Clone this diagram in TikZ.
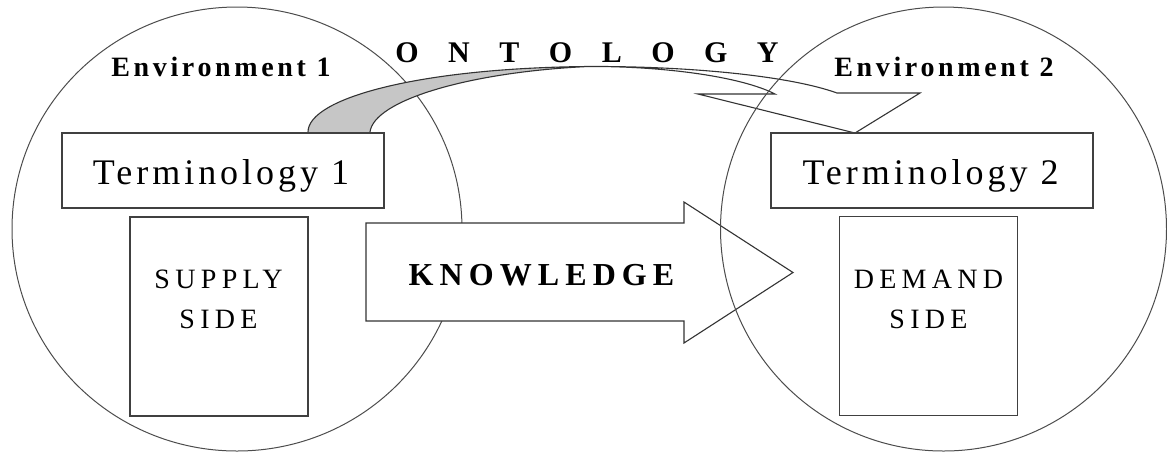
\documentclass[tikz,border=0pt]{standalone}
\usepackage{fontspec}
\setmainfont{Liberation Serif}
\newfontfamily\termfont[LetterSpace=11]{Liberation Serif}
\newfontfamily\sidefont[LetterSpace=19]{Liberation Serif}
\newfontfamily\envfont[LetterSpace=13]{Liberation Serif}
\newfontfamily\knowfont[LetterSpace=19]{Liberation Serif}
\newlength\ontogap
\setlength\ontogap{14.75pt}
\newcommand\ontowords[1]{\spaceskip=\ontogap\relax #1}
\begin{document}
\begin{tikzpicture}[x=0.5pt,y=-0.5pt,
  ring/.style={draw=black!70, line width=0.5pt},
  edge/.style={draw=black!80, line width=0.55pt, line join=miter},
  termbox/.style={draw=black!75, line width=0.75pt, fill=white, inner sep=0pt,
    minimum width=161pt, minimum height=37.5pt},
  sidebox/.style={draw=black!75, line width=0.75pt, fill=white, inner sep=0pt,
    minimum width=89pt, minimum height=99.5pt},
  termtext/.style={inner sep=0pt, anchor=base, font=\termfont\fontsize{18}{21}\selectfont},
  sidetext/.style={inner sep=0pt, anchor=north, align=center, font=\sidefont\fontsize{14}{20}\selectfont},
  envtext/.style={inner sep=0pt, anchor=base, font=\envfont\bfseries\fontsize{14}{17}\selectfont},
  knowtext/.style={inner sep=0pt, anchor=base, font=\knowfont\bfseries\fontsize{16}{19}\selectfont},
  ontotext/.style={inner sep=0pt, anchor=base, font=\bfseries\fontsize{15}{18}\selectfont}
]
\useasboundingbox (0,0) rectangle (1167,452);

% left environment circle
\draw[ring] (237,229) ellipse [x radius=112.5pt, y radius=111pt];

% ontology ribbon arrow
\coordinate (oa) at (308,132);
\coordinate (ob) at (370,132);
\coordinate (peak) at (588,66.5);
\coordinate (outerend) at (837,93);
\coordinate (innerend) at (775,94);
\coordinate (barbr) at (920,93);
\coordinate (barbl) at (698,94);
\coordinate (tip) at (855,133);

\fill[gray!45] (oa) .. controls (308,98) and (420,68) .. (peak)
  .. controls (470,72) and (374,100) .. (ob) -- cycle;
\draw[edge] (oa) .. controls (308,98) and (420,68) .. (peak)
  .. controls (690,66) and (790,76) .. (outerend) -- (barbr) -- (tip) -- (barbl) -- (innerend)
  .. controls (740,76) and (660,66) .. (peak)
  .. controls (470,72) and (374,100) .. (ob);

% knowledge block arrow
\coordinate (k1) at (366,223);
\coordinate (k2) at (684,223);
\coordinate (k3) at (684,202);
\coordinate (k4) at (793,272.5);
\coordinate (k5) at (684,343);
\coordinate (k6) at (684,321);
\coordinate (k7) at (366,321);
\draw[edge, fill=white] (k1) -- (k2) -- (k3) -- (k4) -- (k5) -- (k6) -- (k7) -- cycle;

% right environment circle
\draw[ring] (943.5,229) ellipse [x radius=111.5pt, y radius=111pt];

% boxes
\node[termbox] (term1) at (223,170.5) {};
\node[termbox] (term2) at (932,170.5) {};
\node[sidebox] (supply) at (219,316.5) {};
\node[sidebox] (demand) at (928.5,316) {};

% texts
\node[termtext] (term1t) at (221,184) {Terminology 1};
\node[termtext] (term2t) at (930.5,184) {Terminology 2};
\node[sidetext] (supplyt) at (218.5,270) {SUPPLY\\SIDE};
\node[sidetext] (demandt) at (928.5,270) {DEMAND\\SIDE};
\node[envtext] (env1) at (221,76) {Environment 1};
\node[envtext] (env2) at (944,76) {Environment 2};
\node[knowtext] (know) at (541.5,285) {KNOWLEDGE};
\node[ontotext] (onto) at (587,62) {\ontowords{O N T O L O G Y}};
\end{tikzpicture}
\end{document}
